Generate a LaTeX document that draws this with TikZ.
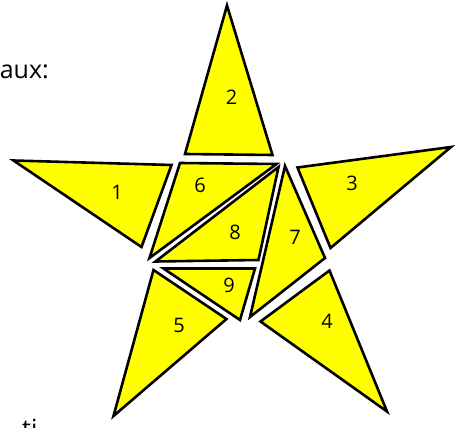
\documentclass[tikz,border=0pt]{standalone}
\usepackage{fontspec}
\setmainfont{Open Sans}
\definecolor{staryellow}{RGB}{255,255,0}
\begin{document}
\begin{tikzpicture}[x=1pt,y=-1pt,
  piece/.style={draw=black,fill=staryellow,line width=2.6pt,line join=miter,miter limit=20},
  num/.style={font=\fontsize{20}{22}\selectfont},
  txt/.style={font=\fontsize{25}{27}\selectfont,inner sep=0pt}]
\useasboundingbox (0,0) rectangle (459,428);
% pieces
\draw[piece] (13.5,160.5) -- (171.5,165) -- (141.5,247) -- cycle;       % 1
\draw[piece] (227,5.5) -- (185,154) -- (272.5,155) -- cycle;            % 2
\draw[piece] (297.5,167.5) -- (451,147) -- (330.5,248) -- cycle;        % 3
\draw[piece] (329.5,270.5) -- (260.5,321.5) -- (387,411.5) -- cycle;    % 4
\draw[piece] (153.5,270) -- (226.5,319) -- (113.5,416) -- cycle;        % 5
\draw[piece] (180,163) -- (276.5,164) -- (149.5,258) -- cycle;          % 6
\draw[piece] (285,166) -- (325,258) -- (250,317) -- cycle;              % 7
\draw[piece] (278.5,167) -- (258.5,260) -- (155.5,261.5) -- cycle;      % 8
\draw[piece] (163.5,268.5) -- (255,268.5) -- (240,320) -- cycle;        % 9
% labels
\node[num] (l1) at (117,192) {1};
\node[num] (l2) at (231.5,97) {2};
\node[num] (l3) at (352,183) {3};
\node[num] (l4) at (327,321) {4};
\node[num] (l5) at (179,325) {5};
\node[num] (l6) at (200,185) {6};
\node[num] (l7) at (295,237) {7};
\node[num] (l8) at (235,232) {8};
\node[num] (l9) at (229,285) {9};
% cut-off texts
\node[txt,anchor=base east] (t1) at (49,79) {aux:};
\node[txt,anchor=base west] (t2) at (22,437) {ti};
\end{tikzpicture}
\end{document}
